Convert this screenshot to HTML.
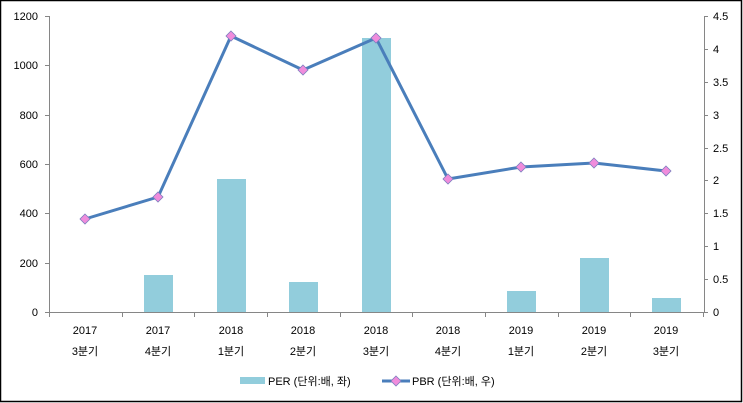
<!DOCTYPE html><html><head><meta charset="utf-8"><style>body{margin:0;background:#fff}svg{display:block}text{font-family:"Liberation Sans","Noto Sans CJK KR",sans-serif;font-size:11px;fill:#000}</style></head><body>
<svg width="743" height="403" xmlns="http://www.w3.org/2000/svg">
<rect x="0.5" y="0.5" width="741" height="401" fill="#fff" stroke="#000" stroke-width="1.5"/>
<g fill="#92cddc">
<rect x="144" y="275" width="29" height="37"/>
<rect x="217" y="179" width="29" height="133"/>
<rect x="289" y="282" width="29" height="30"/>
<rect x="362" y="38" width="29" height="274"/>
<rect x="507" y="291" width="29" height="21"/>
<rect x="580" y="258" width="29" height="54"/>
<rect x="652" y="298" width="29" height="14"/>
</g>
<g stroke="#868686" stroke-width="1" fill="none">
<path d="M49.5 16V312.5H704.5V16"/>
<path d="M45 16.5h4.5M45 65.5h4.5M45 115.5h4.5M45 164.5h4.5M45 213.5h4.5M45 263.5h4.5M45 312.5h4.5"/>
<path d="M704 16.5h4M704 49.5h4M704 82.5h4M704 115.5h4M704 148.5h4M704 180.5h4M704 213.5h4M704 246.5h4M704 279.5h4M704 312.5h4"/>
<path d="M49.5 312v5M122.5 312v5M194.5 312v5M267.5 312v5M340.5 312v5M412.5 312v5M485.5 312v5M558.5 312v5M630.5 312v5M703.5 312v5"/>
</g>
<g text-anchor="end">
<text x="38" y="20">1200</text><text x="38" y="69">1000</text><text x="38" y="119">800</text><text x="38" y="168">600</text><text x="38" y="217">400</text><text x="38" y="267">200</text><text x="38" y="316">0</text>
</g>
<g>
<text x="713" y="20">4.5</text><text x="713" y="53">4</text><text x="713" y="86">3.5</text><text x="713" y="119">3</text><text x="713" y="152">2.5</text><text x="713" y="184">2</text><text x="713" y="217">1.5</text><text x="713" y="250">1</text><text x="713" y="283">0.5</text><text x="713" y="316">0</text>
</g>
<g text-anchor="middle">
<text x="85" y="334">2017</text><text x="85" y="355">3분기</text>
<text x="158" y="334">2017</text><text x="158" y="355">4분기</text>
<text x="231" y="334">2018</text><text x="231" y="355">1분기</text>
<text x="303" y="334">2018</text><text x="303" y="355">2분기</text>
<text x="376" y="334">2018</text><text x="376" y="355">3분기</text>
<text x="448" y="334">2018</text><text x="448" y="355">4분기</text>
<text x="521" y="334">2019</text><text x="521" y="355">1분기</text>
<text x="594" y="334">2019</text><text x="594" y="355">2분기</text>
<text x="666" y="334">2019</text><text x="666" y="355">3분기</text>
</g>
<polyline points="85,219 158,197 231,36 303,70 376,38 448,179 521,167 594,163 666,171" fill="none" stroke="#4a7ebb" stroke-width="3" stroke-linejoin="round"/>
<g fill="#f08cdc" stroke="#7f7fbf" stroke-width="0.8">
<path d="M85 214l5 5-5 5-5-5z"/><path d="M158 192l5 5-5 5-5-5z"/><path d="M231 31l5 5-5 5-5-5z"/><path d="M303 65l5 5-5 5-5-5z"/><path d="M376 33l5 5-5 5-5-5z"/><path d="M448 174l5 5-5 5-5-5z"/><path d="M521 162l5 5-5 5-5-5z"/><path d="M594 158l5 5-5 5-5-5z"/><path d="M666 166l5 5-5 5-5-5z"/>
</g>
<rect x="240" y="377" width="25" height="7" fill="#92cddc"/>
<text x="268" y="385">PER (단위:배, 좌)</text>
<line x1="382" y1="381" x2="410" y2="381" stroke="#4a7ebb" stroke-width="3"/>
<path d="M396 376l5 5-5 5-5-5z" fill="#f08cdc" stroke="#7f7fbf" stroke-width="0.8"/>
<text x="412" y="385">PBR (단위:배, 우)</text>
</svg>
</body></html>
